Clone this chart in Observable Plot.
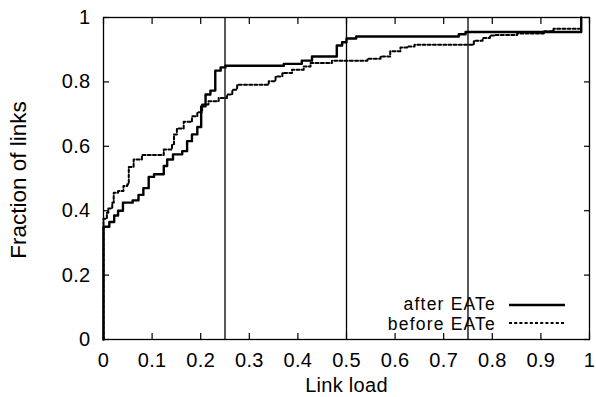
<!DOCTYPE html>
<html>
<head>
<meta charset="utf-8">
<script src="https://cdn.jsdelivr.net/npm/d3@7"></script>
<script src="https://cdn.jsdelivr.net/npm/@observablehq/plot@0.6"></script>
<style>
  html, body { margin: 0; padding: 0; background: #fff; }
  #wrap { position: relative; width: 596px; height: 397px; font-family: "Liberation Sans", Arial, sans-serif; }
  #wrap svg text { letter-spacing: 0.3px; }
  #legend { position: absolute; left: 0; top: 0; width: 596px; height: 397px; pointer-events: none; }
  .lg-row { position: absolute; right: 100px; font-size: 17.5px; letter-spacing: 1.2px; line-height: 16px; height: 16px; text-align: right; white-space: nowrap; }
</style>
</head>
<body>
<div id="wrap"></div>
<script>
// Link load thresholds (vertical reference lines)
const thresholds = [0.25, 0.5, 0.75];

// "after EATe" CDF (step points: x where the fraction jumps, new fraction)
const afterX = [0, 0, 0.012, 0.022, 0.03, 0.04, 0.06, 0.072, 0.082, 0.093, 0.104, 0.124, 0.131, 0.143, 0.162, 0.172, 0.182, 0.193, 0.201, 0.21, 0.22, 0.23, 0.241, 0.251, 0.371, 0.408, 0.429, 0.48, 0.491, 0.5, 0.52, 0.731, 0.745, 0.983];
const afterY = [0, 0.35, 0.365, 0.385, 0.40, 0.425, 0.432, 0.449, 0.47, 0.505, 0.513, 0.539, 0.559, 0.575, 0.585, 0.616, 0.637, 0.66, 0.724, 0.761, 0.773, 0.835, 0.845, 0.85, 0.856, 0.866, 0.879, 0.913, 0.923, 0.935, 0.941, 0.948, 0.955, 1.0];

// "before EATe" CDF
const beforeX = [0, 0, 0.007, 0.01, 0.018, 0.021, 0.03, 0.041, 0.049, 0.052, 0.062, 0.079, 0.124, 0.141, 0.145, 0.151, 0.165, 0.182, 0.193, 0.203, 0.216, 0.237, 0.254, 0.265, 0.275, 0.34, 0.354, 0.368, 0.388, 0.412, 0.426, 0.47, 0.543, 0.57, 0.59, 0.611, 0.625, 0.64, 0.762, 0.78, 0.795, 0.806, 0.851, 0.906, 0.926, 0.981];
const beforeY = [0, 0.375, 0.394, 0.407, 0.425, 0.456, 0.461, 0.477, 0.482, 0.536, 0.559, 0.573, 0.59, 0.606, 0.637, 0.655, 0.676, 0.693, 0.706, 0.73, 0.74, 0.75, 0.761, 0.776, 0.791, 0.802, 0.817, 0.828, 0.838, 0.848, 0.859, 0.866, 0.872, 0.879, 0.895, 0.907, 0.91, 0.915, 0.928, 0.936, 0.944, 0.946, 0.95, 0.957, 0.965, 0.965];

// Axis ticks and labels
const xTicks = [0, 0.1, 0.2, 0.3, 0.4, 0.5, 0.6, 0.7, 0.8, 0.9, 1];
const xTickLabels = ["0", "0.1", "0.2", "0.3", "0.4", "0.5", "0.6", "0.7", "0.8", "0.9", "1"];
const yTicks = [0, 0.2, 0.4, 0.6, 0.8, 1];
const yTickLabels = ["0", "0.2", "0.4", "0.6", "0.8", "1"];
const xLabel = "Link load";
const yLabel = "Fraction of links";
const seriesNames = ["after EATe", "before EATe"];

const after = afterX.map((x, i) => ({x, y: afterY[i]}));
const before = beforeX.map((x, i) => ({x, y: beforeY[i]}));

const chart = Plot.plot({
  width: 596,
  height: 397,
  marginLeft: 103,
  marginRight: 7,
  marginTop: 17,
  marginBottom: 58,
  style: {fontFamily: "'Liberation Sans', Arial, sans-serif", fontSize: "20px", color: "black", background: "white", overflow: "visible"},
  x: {domain: [0, 1]},
  y: {domain: [0, 1]},
  marks: [
    Plot.ruleX(thresholds, {x: d => d, stroke: "black", strokeWidth: 1.3}),
    Plot.line(before, {x: "x", y: "y", curve: "step-after", stroke: "black", strokeWidth: 2, strokeDasharray: "3,2.2"}),
    Plot.line(after, {x: "x", y: "y", curve: "step-after", stroke: "black", strokeWidth: 2.4}),
    Plot.frame({stroke: "black", strokeWidth: 1.3}),
    // labels
    Plot.axisX(xTicks, {anchor: "bottom", tickSize: 0, tickPadding: 13, tickFormat: (d) => xTickLabels[xTicks.indexOf(d)], label: xLabel, labelAnchor: "center", labelOffset: 52, labelArrow: "none"}),
    Plot.axisY(yTicks, {anchor: "left", tickSize: 0, tickPadding: 13, tickFormat: (d) => yTickLabels[yTicks.indexOf(d)], label: null}),
    // inward ticks on all four sides
    Plot.axisX(xTicks, {anchor: "bottom", tickSize: -6, tickFormat: () => "", label: null, strokeWidth: 1.2}),
    Plot.axisX(xTicks, {anchor: "top", tickSize: -6, tickFormat: () => "", label: null, strokeWidth: 1.2}),
    Plot.axisY(yTicks, {anchor: "left", tickSize: -6, tickFormat: () => "", label: null, strokeWidth: 1.2}),
    Plot.axisY(yTicks, {anchor: "right", tickSize: -6, tickFormat: () => "", label: null, strokeWidth: 1.2})
  ]
});

const wrap = document.getElementById("wrap");
wrap.appendChild(chart);

// y-axis title (rotated) as real SVG text
const svgNS = "http://www.w3.org/2000/svg";
const yt = document.createElementNS(svgNS, "text");
yt.setAttribute("transform", "translate(26,180) rotate(-90)");
yt.setAttribute("text-anchor", "middle");
yt.setAttribute("font-size", "22.5px");
yt.setAttribute("fill", "black");
yt.setAttribute("style", "letter-spacing:0px");
yt.textContent = yLabel;
chart.appendChild(yt);

// legend overlay (inside the plot, bottom right)
const legend = document.createElement("div");
legend.id = "legend";
const rows = [
  {name: seriesNames[0], top: 295.5, lineTop: 305, width: 2.4, dash: null},
  {name: seriesNames[1], top: 316, lineTop: 323, width: 2, dash: "3,2.2"}
];
rows.forEach(r => {
  const t = document.createElement("div");
  t.className = "lg-row";
  t.style.top = r.top + "px";
  t.textContent = r.name;
  legend.appendChild(t);
  const l = document.createElementNS(svgNS, "svg");
  l.setAttribute("width", 56);
  l.setAttribute("height", 6);
  l.style.position = "absolute";
  l.style.left = "509px";
  l.style.top = (r.lineTop - 3) + "px";
  const ln = document.createElementNS(svgNS, "line");
  ln.setAttribute("x1", 0); ln.setAttribute("x2", 56);
  ln.setAttribute("y1", 3); ln.setAttribute("y2", 3);
  ln.setAttribute("stroke", "black");
  ln.setAttribute("stroke-width", r.width);
  if (r.dash) ln.setAttribute("stroke-dasharray", r.dash);
  l.appendChild(ln);
  legend.appendChild(l);
});
wrap.appendChild(legend);
</script>
</body>
</html>
